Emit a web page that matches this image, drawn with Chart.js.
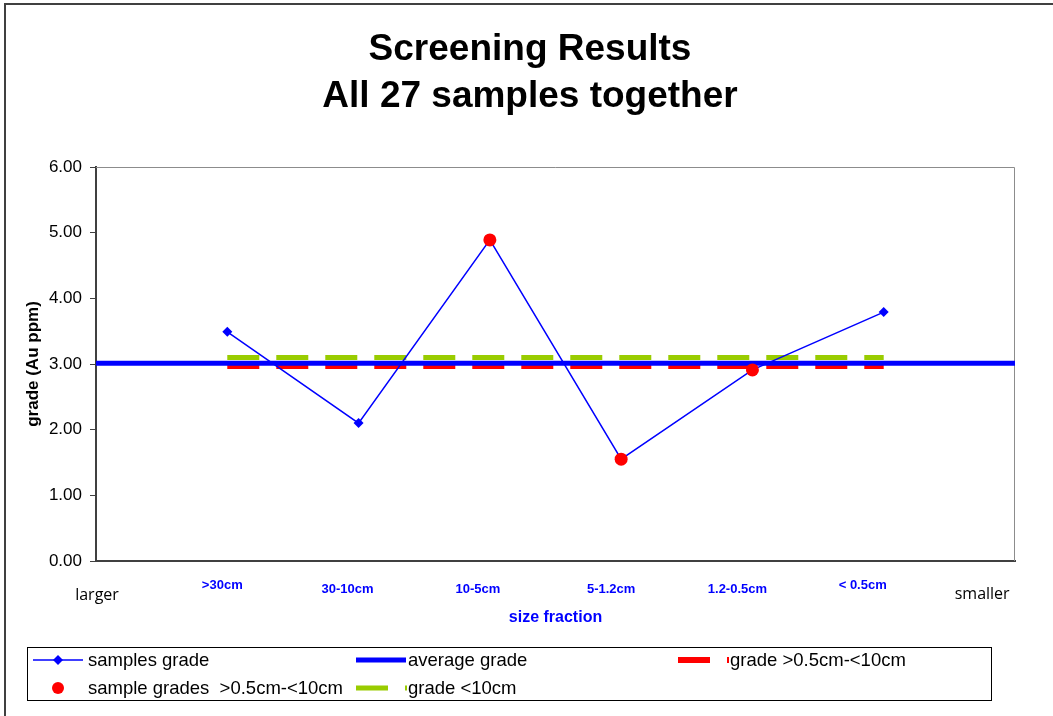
<!DOCTYPE html>
<html lang="en">
<head>
  <meta charset="UTF-8" />
  <title>Screening Results</title>
  <script src="https://cdn.jsdelivr.net/npm/chart.js"></script>
  <style>
    html, body {
      margin: 0;
      padding: 0;
      background: #fff;
    }
    .chart-box {
      width: 1053px;
      height: 716px;
    }
  </style>
</head>
<body>
  <div class="chart-box">
    <canvas id="screenChart" width="1053" height="716"></canvas>
  </div>

  <script>
    // chart values
    const sizeFractions = ['>30cm', '30-10cm', '10-5cm', '5-1.2cm', '1.2-0.5cm', '< 0.5cm'];
    const samplesGrade = [3.49, 2.10, 4.89, 1.55, 2.91, 3.79];
    const sampleGradesMid = [null, null, 4.89, 1.55, 2.91, null];
    const averageGrade = 3.01;
    const gradeMid = 2.97;
    const gradeUnder10 = 3.10;
    const gradeTicks = [0, 1, 2, 3, 4, 5, 6];
    const endLabels = ['larger', 'smaller'];
    const titleLines = ['Screening Results', 'All 27 samples together'];

    const ARIAL = "'Liberation Sans', Arial, sans-serif";
    const BLUE = '#0000FF';
    const RED = '#FF0000';
    const GREEN = '#99CC00';

    Chart.defaults.font.family = ARIAL;

    // x positions: category k sits at k, the end words at 0 and ~6.75
    const xs = sizeFractions.map((_, i) => i + 1);
    const xLabelValues = [0, ...xs, 6.75];
    const xLabels = [endLabels[0], ...sizeFractions, endLabels[1]];
    // the labels in the original are loose text boxes, a bit off their points
    const xLabelNudge = [1, -5, -11, -12, -10, -15, -21, 0];
    const xLabelY = [595, 585, 589, 589, 589, 589, 585, 594];

    // legend layout (canvas drawn, Excel style)
    const legendSlots = [
      { ds: 0, x1: 33, x2: 83, y: 660, textX: 88 },
      { ds: 1, x1: 356, x2: 406, y: 660, textX: 408 },
      { ds: 2, x1: 678, x2: 729, y: 660, textX: 730 },
      { ds: 3, x1: 58, x2: 58, y: 688, textX: 88 },
      { ds: 4, x1: 356, x2: 407, y: 688, textX: 408 }
    ];

    const decorPlugin = {
      id: 'decor',
      beforeDraw(chart) {
        const c = chart.ctx;
        c.save();
        c.fillStyle = '#fff';
        c.fillRect(0, 0, chart.width, chart.height);
        // outer chart frame
        c.strokeStyle = '#404040';
        c.lineWidth = 2;
        c.beginPath();
        c.moveTo(5, chart.height + 5);
        c.lineTo(5, 4);
        c.lineTo(chart.width + 5, 4);
        c.stroke();
        c.restore();
      },
      beforeDatasetsDraw(chart) {
        const a = chart.chartArea;
        const c = chart.ctx;
        c.save();
        c.strokeStyle = '#8c8c8c';
        c.lineWidth = 1;
        c.beginPath();
        c.moveTo(a.left, a.top + 0.5);
        c.lineTo(a.right - 0.5, a.top + 0.5);
        c.lineTo(a.right - 0.5, a.bottom);
        c.stroke();
        c.restore();
      },
      afterDraw(chart) {
        const c = chart.ctx;
        const xScale = chart.scales.x;
        c.save();
        // title
        c.fillStyle = '#000';
        c.font = 'bold 37px ' + ARIAL;
        c.textAlign = 'center';
        c.textBaseline = 'middle';
        c.fillText(titleLines[0], 530, 50);
        c.fillText(titleLines[1], 530, 97);

        // x labels placed from the x scale
        xLabels.forEach((txt, i) => {
          const end = i === 0 || i === xLabels.length - 1;
          c.fillStyle = end ? '#000' : BLUE;
          c.font = end ? "16px 'Open Sans', sans-serif" : 'bold 13px ' + ARIAL;
          c.fillText(txt, xScale.getPixelForValue(xLabelValues[i]) + xLabelNudge[i], xLabelY[i]);
        });

        // legend box
        c.strokeStyle = '#000';
        c.lineWidth = 1;
        c.strokeRect(27.5, 647.5, 964, 53);

        c.font = '18.5px ' + ARIAL;
        c.textAlign = 'left';
        legendSlots.forEach(slot => {
          const ds = chart.data.datasets[slot.ds];
          if (ds.showLine === false) {
            c.fillStyle = ds.backgroundColor;
            c.beginPath();
            c.arc(slot.x1, slot.y, 6, 0, Math.PI * 2);
            c.fill();
          } else {
            c.strokeStyle = ds.borderColor;
            c.lineWidth = ds.borderWidth;
            c.lineCap = 'butt';
            c.setLineDash(ds.borderDash || []);
            c.beginPath();
            c.moveTo(slot.x1, slot.y);
            c.lineTo(slot.x2, slot.y);
            c.stroke();
            c.setLineDash([]);
            if (ds.pointRadius > 0) {
              const mx = (slot.x1 + slot.x2) / 2;
              const r = ds.pointRadius;
              c.fillStyle = ds.backgroundColor;
              c.beginPath();
              c.moveTo(mx, slot.y - r);
              c.lineTo(mx + r, slot.y);
              c.lineTo(mx, slot.y + r);
              c.lineTo(mx - r, slot.y);
              c.closePath();
              c.fill();
            }
          }
          c.fillStyle = '#000';
          c.fillText(ds.label, slot.textX, slot.y + 1);
        });
        c.restore();
      }
    };

    const ctx = document.getElementById('screenChart').getContext('2d');
    const screenChart = new Chart(ctx, {
      type: 'line',
      data: {
        datasets: [
          {
            label: 'samples grade',
            data: xs.map((x, i) => ({ x, y: samplesGrade[i] })),
            borderColor: BLUE,
            backgroundColor: BLUE,
            borderWidth: 1.5,
            pointStyle: 'rectRot',
            pointRadius: 5,
            pointBorderWidth: 0,
            order: 2
          },
          {
            label: 'average grade',
            data: [{ x: 0, y: averageGrade }, { x: 7, y: averageGrade }],
            borderColor: BLUE,
            backgroundColor: BLUE,
            borderWidth: 5,
            pointRadius: 0,
            order: 3
          },
          {
            label: 'grade >0.5cm-<10cm',
            data: [{ x: xs[0], y: gradeMid }, { x: xs[xs.length - 1], y: gradeMid }],
            borderColor: RED,
            backgroundColor: RED,
            borderWidth: 6,
            borderDash: [32, 17],
            borderCapStyle: 'butt',
            pointRadius: 0,
            order: 5
          },
          {
            label: 'sample grades  >0.5cm-<10cm',
            data: xs.map((x, i) => ({ x, y: sampleGradesMid[i] })).filter(p => p.y !== null),
            showLine: false,
            borderColor: RED,
            backgroundColor: RED,
            pointStyle: 'circle',
            pointRadius: 6.5,
            pointBorderWidth: 0,
            order: 1
          },
          {
            label: 'grade <10cm',
            data: [{ x: xs[0], y: gradeUnder10 }, { x: xs[xs.length - 1], y: gradeUnder10 }],
            borderColor: GREEN,
            backgroundColor: GREEN,
            borderWidth: 5,
            borderDash: [32, 17],
            borderCapStyle: 'butt',
            pointRadius: 0,
            order: 4
          }
        ]
      },
      options: {
        responsive: false,
        animation: false,
        layout: { padding: { left: 6, top: 167, right: 38, bottom: 85 } },
        plugins: {
          legend: { display: false },
          tooltip: { enabled: false }
        },
        scales: {
          x: {
            type: 'linear',
            min: 0,
            max: 7,
            afterFit: scale => { scale.height = 70; },
            grid: { drawOnChartArea: false, drawTicks: false },
            border: { display: true, color: '#404040', width: 2 },
            ticks: { display: false },
            title: {
              display: true,
              text: 'size fraction',
              color: BLUE,
              font: { size: 16, weight: 'bold' },
              padding: { top: 0, bottom: 4 }
            }
          },
          y: {
            min: 0,
            max: 6,
            afterBuildTicks: scale => {
              scale.ticks = gradeTicks.map(v => ({ value: v }));
            },
            afterFit: scale => { scale.width = 90; },
            grid: { drawOnChartArea: false, drawTicks: true, tickLength: 6, color: '#404040' },
            border: { color: '#404040', width: 2 },
            ticks: {
              color: '#000',
              font: { size: 17 },
              padding: 8,
              callback: v => v.toFixed(2)
            },
            title: {
              display: true,
              text: 'grade (Au ppm)',
              color: '#000',
              font: { size: 17, weight: 'bold' },
              padding: { top: 17, bottom: 0 }
            }
          }
        }
      },
      plugins: [decorPlugin]
    });
  </script>
</body>
</html>
